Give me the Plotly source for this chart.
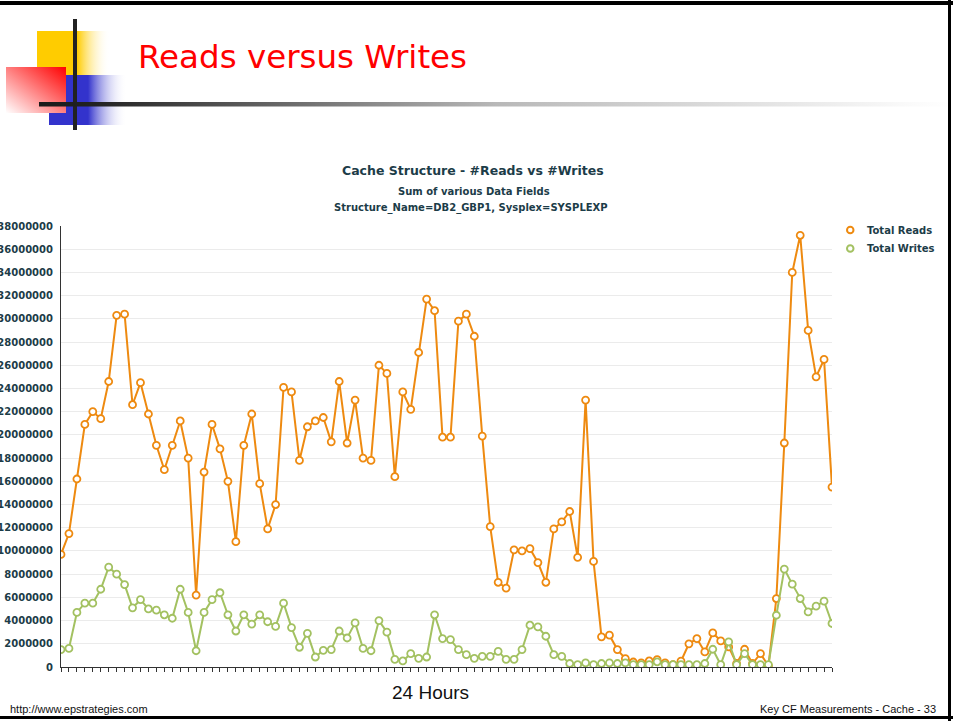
import base64
import plotly.graph_objects as go

# Cache structure activity over one day, sampled at regular intervals (values in millions)
total_reads_m = [
    9.7, 11.5, 16.2, 20.9, 22.0, 21.4, 24.6, 30.3, 30.4, 22.6,
    24.5, 21.8, 19.1, 17.0, 19.1, 21.2, 18.0, 6.2, 16.8, 20.9,
    18.8, 16.0, 10.8, 19.1, 21.8, 15.8, 11.9, 14.0, 24.1, 23.7,
    17.8, 20.7, 21.2, 21.5, 19.4, 24.6, 19.3, 23.0, 18.0, 17.8,
    26.0, 25.3, 16.4, 23.7, 22.2, 27.1, 31.7, 30.7, 19.8, 19.8,
    29.8, 30.4, 28.5, 19.9, 12.1, 7.3, 6.8, 10.1, 10.0, 10.2,
    9.0, 7.3, 11.9, 12.5, 13.4, 9.45, 23.0, 9.1, 2.6, 2.74,
    1.5, 0.72, 0.43, 0.35, 0.52, 0.64, 0.35, 0.2, 0.5, 2.0,
    2.45, 1.3, 2.94, 2.25, 1.73, 0.3, 1.53, 0.3, 1.15, 0.1,
    5.9, 19.3, 34.0, 37.2, 29.0, 25.0, 26.5, 15.5,
]
total_writes_m = [
    1.5, 1.6, 4.7, 5.5, 5.5, 6.7, 8.6, 8.0, 7.1, 5.1,
    5.8, 5.0, 4.9, 4.5, 4.2, 6.7, 4.7, 1.4, 4.7, 5.8,
    6.4, 4.5, 3.1, 4.5, 3.7, 4.5, 3.9, 3.5, 5.5, 3.4,
    1.7, 2.9, 0.86, 1.44, 1.5, 3.1, 2.5, 3.8, 1.6, 1.4,
    4.0, 3.0, 0.66, 0.52, 1.15, 0.75, 0.86, 4.5, 2.45, 2.36,
    1.5, 1.06, 0.75, 0.92, 0.92, 1.35, 0.66, 0.66, 1.5, 3.6,
    3.45, 2.65, 1.06, 0.92, 0.3, 0.2, 0.35, 0.2, 0.3, 0.35,
    0.3, 0.35, 0.2, 0.2, 0.2, 0.45, 0.2, 0.2, 0.2, 0.2,
    0.2, 0.3, 1.53, 0.2, 2.16, 0.2, 1.15, 0.2, 0.2, 0.2,
    4.46, 8.44, 7.14, 5.9, 4.75, 5.24, 5.67, 3.75,
]
series_names = ["Total Reads", "Total Writes"]
series_colors = ["#ee8a10", "#a3c161"]
y_ticks = list(range(0, 38000001, 2000000))

intervals = list(range(len(total_reads_m)))
reads = [v * 1e6 for v in total_reads_m]
writes = [v * 1e6 for v in total_writes_m]

W, H = 953, 721
L, R, T, B = 61, 121, 226, 54
PW, PH = W - L - R, H - T - B


def px(x):
    return (x - L) / PW


def py(y):
    return (H - B - y) / PH


TEAL = "#1c3c48"
BOLD = dict(family="Verdana, DejaVu Sans", weight="bold", color=TEAL)

fig = go.Figure()
for name, vals, col in zip(series_names, [reads, writes], series_colors):
    fig.add_trace(go.Scatter(
        x=intervals, y=vals, name=name, mode="lines+markers",
        line=dict(color=col, width=2),
        marker=dict(symbol="circle", size=7, color="white",
                    line=dict(color=col, width=1.8)),
        showlegend=False,
    ))

# slide decoration: header blocks, rule and frame
svg = f"""<svg xmlns="http://www.w3.org/2000/svg" width="{W}" height="{H}" viewBox="0 0 {W} {H}">
<defs>
<linearGradient id="yg" x1="0" y1="0" x2="1" y2="0">
<stop offset="0" stop-color="#ffcc00"/><stop offset="0.55" stop-color="#ffcc00"/>
<stop offset="1" stop-color="#ffffff" stop-opacity="0"/></linearGradient>
<linearGradient id="bg" x1="0" y1="0" x2="1" y2="0">
<stop offset="0" stop-color="#3333cc"/><stop offset="0.5" stop-color="#3333cc"/>
<stop offset="1" stop-color="#ffffff" stop-opacity="0"/></linearGradient>
<linearGradient id="rg" x1="0" y1="1" x2="1" y2="0">
<stop offset="0" stop-color="#ffffff"/><stop offset="1" stop-color="#ff0000"/></linearGradient>
<linearGradient id="lg" x1="0" y1="0" x2="1" y2="0">
<stop offset="0" stop-color="#1a1a1a"/><stop offset="0.06" stop-color="#222222"/>
<stop offset="0.5" stop-color="#b8b8b8"/><stop offset="0.95" stop-color="#fafafa"/>
<stop offset="1" stop-color="#ffffff"/></linearGradient>
</defs>
<rect x="37" y="31" width="73" height="44" fill="url(#yg)"/>
<rect x="49" y="75" width="78" height="50" fill="url(#bg)"/>
<rect x="6" y="67" width="60" height="46" fill="url(#rg)"/>
<rect x="73" y="19" width="4" height="111" fill="#222222"/>
<rect x="39" y="102" width="{W - 39}" height="4.5" fill="url(#lg)"/>
<rect x="0" y="1" width="{W}" height="4" fill="#000000"/>
<rect x="948" y="0" width="3" height="{H}" fill="#000000"/>
<rect x="0" y="716" width="{W}" height="3" fill="#000000"/>
</svg>"""
src = "data:image/svg+xml;base64," + base64.b64encode(svg.encode()).decode()

fig.add_layout_image(dict(
    source=src, xref="paper", yref="paper",
    x=px(0), y=py(0), sizex=W / PW, sizey=H / PH,
    xanchor="left", yanchor="top", sizing="stretch", layer="below",
))

ann = [
    dict(text="Reads versus Writes", x=px(136), y=py(57), xanchor="left", yanchor="middle",
         font=dict(family="Tahoma, DejaVu Sans", size=32.5, color="#ff0000")),
    dict(text="Cache Structure - #Reads vs #Writes", x=px(473), y=py(171),
         xanchor="center", yanchor="middle", font=dict(size=12.5, **BOLD)),
    dict(text="Sum of various Data Fields", x=px(474), y=py(191),
         xanchor="center", yanchor="middle", font=dict(size=10, **BOLD)),
    dict(text="Structure_Name=DB2_GBP1, Sysplex=SYSPLEXP", x=px(471), y=py(208),
         xanchor="center", yanchor="middle", font=dict(size=10, **BOLD)),
    dict(text="24 Hours", x=px(430), y=py(692), xanchor="center", yanchor="middle",
         font=dict(family="Liberation Sans Narrow, Liberation Sans, Arial", size=19, color="#111111")),
    dict(text="http://www.epstrategies.com", x=px(8), y=py(709), xanchor="left", yanchor="middle",
         font=dict(family="Liberation Sans, Arial", size=11, color="#111111")),
    dict(text="Key CF Measurements - Cache - 33", x=px(938), y=py(709), xanchor="right",
         yanchor="middle", font=dict(family="Liberation Sans, Arial", size=11, color="#111111")),
]
shapes = []
for i, (name, col) in enumerate(zip(series_names, series_colors)):
    cy = 230 + i * 18.5
    ann.append(dict(text=name, x=px(865), y=py(cy), xanchor="left", yanchor="middle",
                    font=dict(size=10, **BOLD)))
    shapes.append(dict(type="circle", xref="paper", yref="paper",
                       x0=px(847), x1=px(853.5), y0=py(cy + 3.25), y1=py(cy - 3.25),
                       line=dict(color=col, width=2), fillcolor="white"))
for a in ann:
    a.update(xref="paper", yref="paper", showarrow=False)

fig.update_layout(
    width=W, height=H,
    margin=dict(l=L, r=R, t=T, b=B, pad=0),
    paper_bgcolor="white", plot_bgcolor="rgba(0,0,0,0)",
    annotations=ann, shapes=shapes, showlegend=False,
    xaxis=dict(range=[0, len(intervals) - 1], tickmode="array", tickvals=intervals,
               ticks="outside", ticklen=4, tickcolor="#333333", tickwidth=1,
               showticklabels=False, showgrid=False, zeroline=False,
               showline=True, linecolor="#333333", linewidth=1, automargin=False),
    yaxis=dict(range=[0, 38000000], tickmode="array", tickvals=y_ticks,
               ticktext=[str(v) for v in y_ticks], ticks="",
               tickfont=dict(size=10, **BOLD), ticklabelstandoff=5,
               showgrid=True, gridcolor="#ebebeb", gridwidth=1, zeroline=False,
               showline=True, linecolor="#333333", linewidth=1, automargin=False),
)

fig.write_html("out.html")
